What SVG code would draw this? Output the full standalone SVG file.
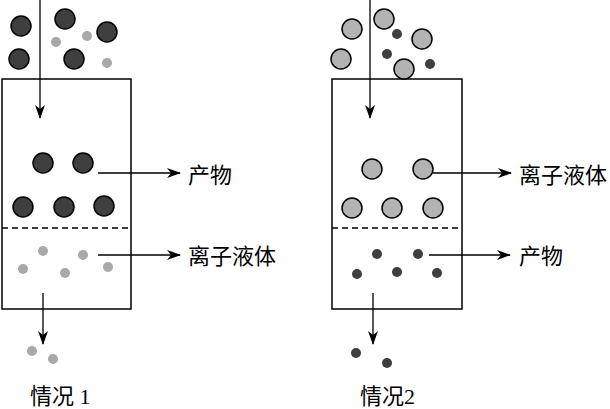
<svg xmlns="http://www.w3.org/2000/svg" width="610" height="409" viewBox="0 0 610 409">
<style>
.box{fill:none;stroke:#000;stroke-width:1.5}
.dash{stroke:#000;stroke-width:1.5;stroke-dasharray:6,4}
.ln{stroke:#000;stroke-width:1.3;fill:none}
.bigd{fill:#3f3f3f;stroke:#000;stroke-width:1.5}
.bigl{fill:#b3b3b3;stroke:#000;stroke-width:1.5}
.smd{fill:#3f3f3f}
.sml{fill:#a9a9a9}
.t{font-family:"Liberation Serif","Noto Sans CJK SC",serif;font-size:22px;fill:#000}
</style>
<defs>
<marker id="ah" viewBox="0 0 14 10" refX="13" refY="5" markerWidth="14" markerHeight="10" markerUnits="userSpaceOnUse" orient="auto">
<path d="M0,0 L14,5 L0,10 L4,5 Z" fill="#000"/>
</marker>
</defs>
<rect width="610" height="409" fill="#fff"/>
<g id="connectors">
<line class="ln" x1="40" y1="0" x2="40" y2="118" marker-end="url(#ah)"/>
<line class="ln" x1="98" y1="173" x2="180" y2="173" marker-end="url(#ah)"/>
<line class="ln" x1="98" y1="255" x2="180" y2="255" marker-end="url(#ah)"/>
<line class="ln" x1="43" y1="293" x2="43" y2="344" marker-end="url(#ah)"/>
<line class="ln" x1="370" y1="0" x2="370" y2="118" marker-end="url(#ah)"/>
<line class="ln" x1="433" y1="173" x2="511" y2="173" marker-end="url(#ah)"/>
<line class="ln" x1="429" y1="255" x2="510" y2="255" marker-end="url(#ah)"/>
<line class="ln" x1="373" y1="293" x2="373" y2="344" marker-end="url(#ah)"/>
</g>
<g id="reactor1">
<rect class="box" x="2" y="79" width="129" height="230"/>
<line class="dash" x1="2" y1="228" x2="131" y2="228"/>
</g>
<g id="reactor2">
<rect class="box" x="332" y="79" width="130" height="230"/>
<line class="dash" x1="332" y1="228" x2="462" y2="228"/>
</g>
<g id="feed1">
<circle class="bigd" cx="21" cy="26" r="10"/>
<circle class="bigd" cx="19" cy="59" r="10"/>
<circle class="bigd" cx="65" cy="19" r="10"/>
<circle class="bigd" cx="107" cy="32" r="10"/>
<circle class="bigd" cx="74" cy="59" r="10"/>
<circle class="sml" cx="56" cy="42" r="5"/>
<circle class="sml" cx="87" cy="36" r="5"/>
<circle class="sml" cx="107" cy="63" r="5"/>
</g>
<g id="product1">
<circle class="bigd" cx="43" cy="163" r="10"/>
<circle class="bigd" cx="83" cy="163" r="10"/>
<circle class="bigd" cx="23" cy="207" r="10"/>
<circle class="bigd" cx="64" cy="207" r="10"/>
<circle class="bigd" cx="104" cy="206" r="10"/>
</g>
<g id="ionic1">
<circle class="sml" cx="43" cy="251" r="5"/>
<circle class="sml" cx="83" cy="255" r="5"/>
<circle class="sml" cx="23" cy="269" r="5"/>
<circle class="sml" cx="65" cy="273" r="5"/>
<circle class="sml" cx="108" cy="267" r="5"/>
</g>
<g id="out1">
<circle class="sml" cx="32" cy="351" r="5"/>
<circle class="sml" cx="53" cy="359" r="5"/>
</g>
<g id="labels1">
<text class="t" x="188" y="183">产物</text>
<text class="t" x="188" y="264">离子液体</text>
<text class="t" x="30" y="404">情况 1</text>
</g>
<g id="feed2">
<circle class="bigl" cx="352" cy="29" r="10"/>
<circle class="bigl" cx="341" cy="59" r="10"/>
<circle class="bigl" cx="384" cy="19" r="10"/>
<circle class="bigl" cx="422" cy="39" r="10"/>
<circle class="bigl" cx="404" cy="69" r="10"/>
<circle class="smd" cx="397" cy="34" r="5"/>
<circle class="smd" cx="387" cy="54" r="5"/>
<circle class="smd" cx="430" cy="64" r="5"/>
</g>
<g id="ionic2">
<circle class="bigl" cx="372" cy="169" r="10"/>
<circle class="bigl" cx="423" cy="169" r="10"/>
<circle class="bigl" cx="352" cy="208" r="10"/>
<circle class="bigl" cx="392" cy="208" r="10"/>
<circle class="bigl" cx="433" cy="208" r="10"/>
</g>
<g id="product2">
<circle class="smd" cx="377" cy="254" r="5"/>
<circle class="smd" cx="418" cy="254" r="5"/>
<circle class="smd" cx="357" cy="274" r="5"/>
<circle class="smd" cx="397" cy="272" r="5"/>
<circle class="smd" cx="437" cy="273" r="5"/>
</g>
<g id="out2">
<circle class="smd" cx="356" cy="353" r="5"/>
<circle class="smd" cx="387" cy="363" r="5"/>
</g>
<g id="labels2">
<text class="t" x="519" y="183">离子液体</text>
<text class="t" x="519" y="264">产物</text>
<text class="t" x="360" y="404">情况2</text>
</g>
</svg>
